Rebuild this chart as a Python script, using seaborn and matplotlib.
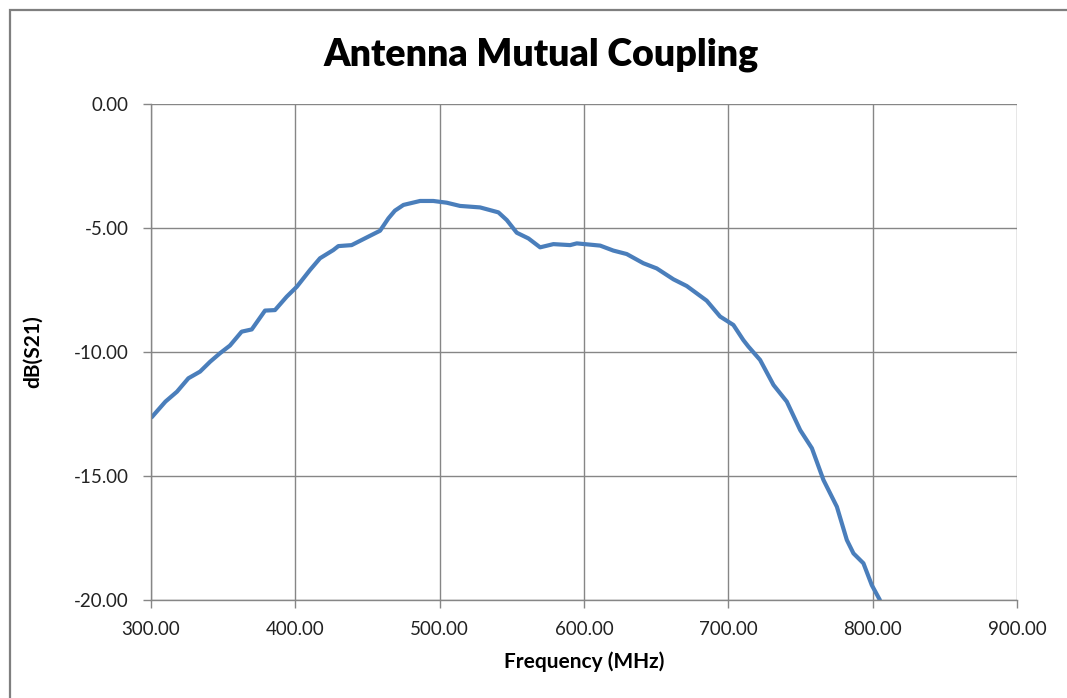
import pandas as pd
import matplotlib.pyplot as plt
import matplotlib.patches as patches
import seaborn as sns

# values
freq_mhz = [300.5, 310, 318, 325.9, 334, 341, 347.8, 354.7, 362.8, 369.8,
            379, 385.9, 394, 401, 410.2, 417.1, 426.3, 429.8, 439, 449.5,
            458.7, 464.5, 469, 474.9, 486.4, 495.6, 504.9, 514.1, 528, 540.7,
            546.5, 553.4, 561.5, 569.6, 578.8, 590.4, 595, 611.2, 620.3, 629.6,
            641.1, 650.4, 662, 671.2, 685, 694.3, 703.5, 710.4, 713.9, 722,
            731.3, 740.5, 749.8, 757.9, 765.9, 775.2, 782.1, 786.7, 793.6, 799.4,
            805]
s21_db = [-12.63, -12.0, -11.6, -11.06, -10.79, -10.39, -10.05, -9.74, -9.18, -9.09,
          -8.33, -8.31, -7.77, -7.37, -6.69, -6.22, -5.89, -5.73, -5.69, -5.38,
          -5.11, -4.61, -4.3, -4.07, -3.91, -3.91, -3.98, -4.11, -4.17, -4.37,
          -4.68, -5.19, -5.42, -5.78, -5.65, -5.69, -5.62, -5.71, -5.91, -6.05,
          -6.42, -6.63, -7.07, -7.34, -7.93, -8.57, -8.91, -9.52, -9.78, -10.32,
          -11.33, -12.0, -13.15, -13.88, -15.16, -16.24, -17.58, -18.12, -18.52, -19.40,
          -20.0]
x_ticks = [300, 400, 500, 600, 700, 800, 900]
y_ticks = [0, -5, -10, -15, -20]

df = pd.DataFrame({'freq': freq_mhz, 's21': s21_db})

sns.set_style('white')
plt.rcParams['font.family'] = ['Lato', 'DejaVu Sans']
plt.rcParams['axes.unicode_minus'] = False

grey = '#868686'
fig = plt.figure(figsize=(10.67, 6.98), dpi=100)
ax = fig.add_axes([151 / 1067, 1 - 600 / 698, (1017 - 151) / 1067, (600 - 104) / 698])

# chart area border like the spreadsheet frame
fig.patches.append(patches.Rectangle((10 / 1067, -0.1), 1.2, 1 - 10 / 698 + 0.1,
                                     transform=fig.transFigure, fill=False,
                                     edgecolor='#7f7f7f', linewidth=1.6))

sns.lineplot(data=df, x='freq', y='s21', ax=ax, color='#4A7EBB', linewidth=3.0)

ax.set_xlim(300, 900)
ax.set_ylim(-20, 0)
ax.set_xticks(x_ticks)
ax.set_yticks(y_ticks)
ax.set_xticklabels([f'{v:.2f}' for v in x_ticks])
ax.set_yticklabels([f'{v:.2f}' for v in y_ticks])
ax.grid(True, color=grey, linewidth=1.0)
ax.set_axisbelow(True)
for side in ['top', 'right']:
    ax.spines[side].set_visible(False)
for side in ['left', 'bottom']:
    ax.spines[side].set_color(grey)
    ax.spines[side].set_linewidth(1.0)
ax.tick_params(axis='both', which='major', length=6, width=1.0, color=grey,
               labelsize=13.5, labelcolor='#222222', direction='out', bottom=True, left=True)
ax.tick_params(axis='x', pad=9)
ax.tick_params(axis='y', pad=10)

ax.set_xlabel('Frequency (MHz)', fontsize=15, fontweight='bold', labelpad=10, color='black')
ax.set_ylabel('dB(S21)', fontsize=15, fontweight='bold', labelpad=22, color='black')
fig.text(541 / 1067, 1 - 55 / 698, 'Antenna Mutual Coupling', ha='center', va='center',
         fontsize=27, fontweight='heavy', color='black')

fig.savefig('out.png', dpi=100)
